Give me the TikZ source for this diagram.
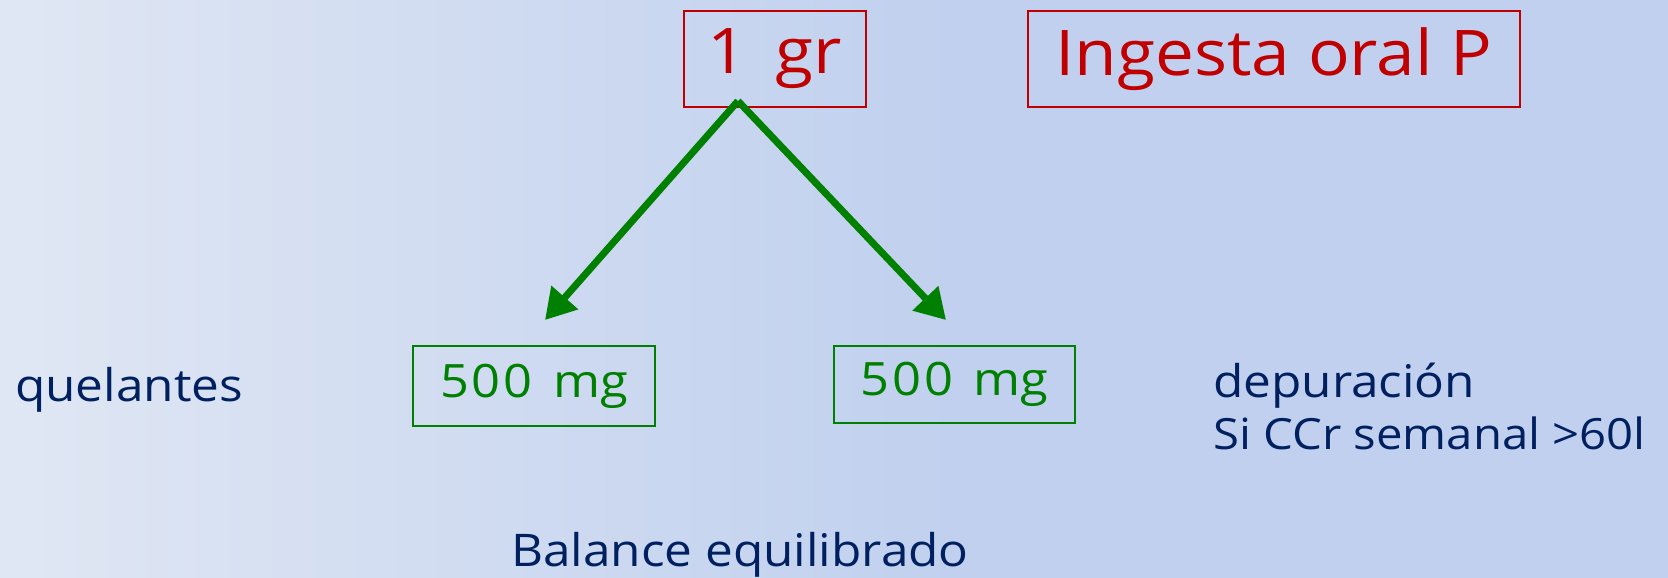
\documentclass[tikz,border=0pt]{standalone}
\usepackage{fontspec}
\setmainfont{Open Sans}[FakeStretch=1.1]
\usetikzlibrary{arrows.meta}
\definecolor{bgL}{RGB}{224,231,244}
\definecolor{bgR}{RGB}{192,208,238}
\definecolor{redT}{RGB}{192,0,0}
\definecolor{greenT}{RGB}{0,128,0}
\definecolor{navyT}{RGB}{0,32,96}
\tikzset{
  redbox/.style={draw=redT, line width=1.6pt, text=redT, font=\fontsize{63}{68}\selectfont, inner sep=0pt},
  greenbox/.style={draw=greenT, line width=1.6pt, text=greenT, font=\fontsize{46}{50}\selectfont, inner sep=0pt},
  navytext/.style={text=navyT, font=\fontsize{45}{50}\selectfont, inner sep=0pt, anchor=base west},
  greenarrow/.style={draw=greenT, line width=7pt, -{Triangle[length=30pt,width=34pt]}}
}
\begin{document}
\begin{tikzpicture}[x=1pt,y=-1pt]
\useasboundingbox (0,0) rectangle (1668,578);
\shade[left color=bgL, right color=bgR, draw=none] (0,0) rectangle (960,578);
\fill[bgR] (959,0) rectangle (1668,578);
\node[redbox, minimum width=182pt, minimum height=96pt] (gr) at (775,59) {1\hspace{0.45em}gr};
\node[redbox, minimum width=492pt, minimum height=96pt] (ingesta) at (1274,59) {Ingesta oral P};
\node[greenbox, minimum width=242pt, minimum height=80pt] (mgL) at (534,386) {5\kern0.06em0\kern0.06em0\hspace{0.45em}mg};
\node[greenbox, minimum width=241pt, minimum height=77pt] (mgR) at (954.5,384.5) {5\kern0.06em0\kern0.06em0\hspace{0.45em}mg};
\coordinate (split) at (738,101);
\coordinate (endL) at (545,320);
\coordinate (endR) at (946,320);
\draw[greenarrow] (split) -- (endL);
\draw[greenarrow] (split) -- (endR);
\node[navytext] (quel) at (15,401) {quelantes};
\node[navytext] (dep) at (1213,397) {depuración};
\node[navytext, font=\fontsize{43}{46}\selectfont] (si) at (1213,449) {Si CCr semanal >60l};
\node[navytext] (bal) at (511,566) {Balance equilibrado};
\end{tikzpicture}
\end{document}
